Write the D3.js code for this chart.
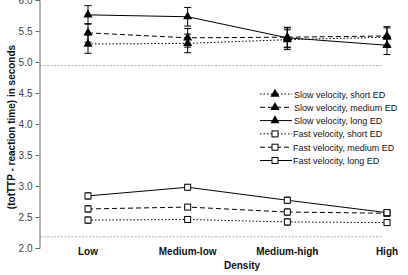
<!DOCTYPE html>
<html><head><meta charset="utf-8">
<script src="https://cdn.jsdelivr.net/npm/d3@7"></script>
<style>body{margin:0;background:#fff}svg{display:block}text{font-family:"Liberation Sans",Arial,sans-serif}</style>
</head><body><svg id="c" width="408" height="275"></svg>
<script>
const categories = ["Low", "Medium-low", "Medium-high", "High"];
const yTicks = [2.0, 2.5, 3.0, 3.5, 4.0, 4.5, 5.0, 5.5, 6.0];
const seriesNames = ["Slow velocity, short ED","Slow velocity, medium ED","Slow velocity, long ED","Fast velocity, short ED","Fast velocity, medium ED","Fast velocity, long ED"];
const slowShort = [5.29, 5.30, 5.36, 5.40];
const slowMedium = [5.47, 5.39, 5.40, 5.42];
const slowLong = [5.76, 5.73, 5.39, 5.27];
const fastShort = [2.45, 2.46, 2.42, 2.41];
const fastMedium = [2.63, 2.66, 2.58, 2.56];
const fastLong = [2.84, 2.98, 2.77, 2.57];
const slowErr = [0.15, 0.15, 0.16, 0.15];
const fastErr = [0.05, 0.04, 0.05, 0.04];
const refLines = [4.94, 2.18];

const svg = d3.select("#c");
const y = d3.scaleLinear().domain([2, 6]).range([248, 0]);
const x = d3.scalePoint().domain(categories).range([88, 387]);

refLines.forEach(v => {
  svg.append("line").attr("x1", 40).attr("x2", 382).attr("y1", y(v)).attr("y2", y(v))
    .attr("stroke", "#aaa").attr("stroke-width", 1).attr("stroke-dasharray", "2,1.5");
});

const ax = svg.append("g").attr("transform", "translate(39.5,0)")
  .call(d3.axisLeft(y).tickValues(yTicks).tickFormat(d3.format(".1f")).tickSize(4).tickPadding(3));
ax.select(".domain").attr("stroke", "#666");
ax.selectAll(".tick line").attr("stroke", "#666");
ax.selectAll(".tick text").attr("font-size", 10).attr("fill", "#444");

categories.forEach(c => {
  svg.append("text").attr("x", x(c)).attr("y", 255).attr("text-anchor", "middle")
    .attr("font-size", 10).attr("font-weight", "bold").attr("fill", "#111").text(c);
});
svg.append("text").attr("x", 242).attr("y", 269).attr("text-anchor", "middle")
  .attr("font-size", 10).attr("font-weight", "bold").attr("fill", "#111").text("Density");
svg.append("text").attr("transform", "translate(15,127) rotate(-90)").attr("text-anchor", "middle")
  .attr("font-size", 10).attr("font-weight", "bold").attr("fill", "#111").text("(totTTP - reaction time) in seconds");

const dashes = ["1.5,2", "5,3", null];
const series = [
  {vals: slowShort, err: slowErr, mk: "tri", dash: dashes[0]},
  {vals: slowMedium, err: slowErr, mk: "tri", dash: dashes[1]},
  {vals: slowLong, err: slowErr, mk: "tri", dash: dashes[2]},
  {vals: fastShort, err: fastErr, mk: "sq", dash: dashes[0]},
  {vals: fastMedium, err: fastErr, mk: "sq", dash: dashes[1]},
  {vals: fastLong, err: fastErr, mk: "sq", dash: dashes[2]}
];
const line = d3.line().x((d, i) => x(categories[i])).y(d => y(d));
const tri = d3.symbol().type(d3.symbolTriangle).size(36);

function marker(g, mk, cx, cy) {
  if (mk === "tri") {
    g.append("path").attr("d", tri()).attr("transform", `translate(${cx},${cy})`).attr("fill", "#000");
  } else {
    g.append("rect").attr("x", cx - 3).attr("y", cy - 3).attr("width", 6).attr("height", 6)
      .attr("fill", "#fff").attr("stroke", "#000").attr("stroke-width", 1);
  }
}

series.forEach(s => {
  svg.append("path").attr("d", line(s.vals)).attr("fill", "none").attr("stroke", "#000")
    .attr("stroke-width", 1).attr("stroke-dasharray", s.dash);
  s.vals.forEach((v, i) => {
    const cx = x(categories[i]);
    const cap = s.mk === "tri" ? 3.5 : 2.5;
    const g = svg.append("g").attr("stroke", "#000").attr("stroke-width", 1);
    g.append("line").attr("x1", cx).attr("x2", cx).attr("y1", y(v - s.err[i])).attr("y2", y(v + s.err[i]));
    [v - s.err[i], v + s.err[i]].forEach(e => g.append("line").attr("x1", cx - cap).attr("x2", cx + cap).attr("y1", y(e)).attr("y2", y(e)));
  });
});
series.forEach(s => s.vals.forEach((v, i) => marker(svg, s.mk, x(categories[i]), y(v))));

const lg = svg.append("g");
series.forEach((s, k) => {
  const ly = 94 + k * 13.3;
  lg.append("line").attr("x1", 260).attr("x2", 292).attr("y1", ly).attr("y2", ly)
    .attr("stroke", "#000").attr("stroke-width", 1).attr("stroke-dasharray", s.dash);
  marker(lg, s.mk, 275, ly);
  lg.append("text").attr("x", k < 3 ? 294 : 293).attr("y", ly + 3.5).attr("font-size", 9).attr("fill", "#111").text(seriesNames[k]);
});
</script></body></html>
